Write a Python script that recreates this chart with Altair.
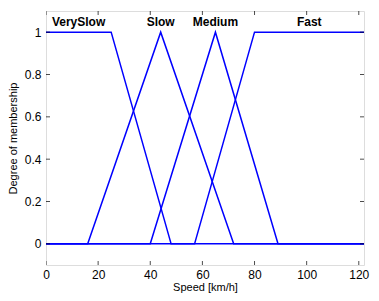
import altair as alt
import pandas as pd

# membership function breakpoints (speed, degree)
very_slow_x = [0, 25, 48, 122]
very_slow_y = [1, 1, 0, 0]
slow_x = [0, 16, 44, 72, 122]
slow_y = [0, 0, 1, 0, 0]
medium_x = [0, 40, 65, 89, 122]
medium_y = [0, 0, 1, 0, 0]
fast_x = [0, 57, 80, 122]
fast_y = [0, 0, 1, 1]

label_names = ["VerySlow", "Slow", "Medium", "Fast"]
label_x = [12.5, 44, 65, 101]
label_y = [1.05, 1.05, 1.05, 1.05]

x_ticks = [0, 20, 40, 60, 80, 100, 120]
y_ticks = [0, 0.2, 0.4, 0.6, 0.8, 1]
x_domain = [0, 122]
y_domain = [-0.1, 1.1]

rows = []
for name, xs, ys in [("VerySlow", very_slow_x, very_slow_y),
                     ("Slow", slow_x, slow_y),
                     ("Medium", medium_x, medium_y),
                     ("Fast", fast_x, fast_y)]:
    for i, (a, b) in enumerate(zip(xs, ys)):
        rows.append({"mf": name, "speed": a, "deg": b, "order": i})
df = pd.DataFrame(rows)
labels = pd.DataFrame({"name": label_names, "x": label_x, "y": label_y})
xt = pd.DataFrame({"v": x_ticks})
yt = pd.DataFrame({"v": y_ticks})

FONT = "Liberation Sans"
xscale = alt.Scale(domain=x_domain, nice=False, zero=False)
yscale = alt.Scale(domain=y_domain, nice=False, zero=False)

lines = alt.Chart(df).mark_line(color="#0000ff", strokeWidth=1.5, clip=True).encode(
    x=alt.X("speed:Q", scale=xscale,
            axis=alt.Axis(values=x_ticks, title="Speed [km/h]", ticks=False, domain=False,
                          grid=False, labelFontSize=12, titleFontSize=11, labelPadding=4,
                          titlePadding=1, labelColor="black", titleColor="black",
                          titleFontWeight="normal", labelFont=FONT, titleFont=FONT,
                          labelFlush=False)),
    y=alt.Y("deg:Q", scale=yscale,
            axis=alt.Axis(values=y_ticks, title="Degree of membership", ticks=False,
                          domain=False, grid=False, format="~g", labelFontSize=12,
                          titleFontSize=11, labelPadding=5, titlePadding=6,
                          labelColor="black", titleColor="black", titleFontWeight="normal",
                          labelFont=FONT, titleFont=FONT, labelFlush=False)),
    detail="mf:N",
    order="order:Q",
)

text = alt.Chart(labels).mark_text(fontWeight="bold", fontSize=12, font=FONT,
                                   color="black", baseline="middle").encode(
    x=alt.X("x:Q", scale=xscale), y=alt.Y("y:Q", scale=yscale), text="name:N")

bt = alt.Chart(xt).mark_tick(orient="vertical", size=8, thickness=1, color="black",
                             clip=True).encode(x=alt.X("v:Q", scale=xscale),
                                               y=alt.datum(y_domain[0]))
tt = alt.Chart(xt).mark_tick(orient="vertical", size=8, thickness=1, color="black",
                             clip=True).encode(x=alt.X("v:Q", scale=xscale),
                                               y=alt.datum(y_domain[1]))
lt = alt.Chart(yt).mark_tick(orient="horizontal", size=8, thickness=1, color="black",
                             clip=True).encode(y=alt.Y("v:Q", scale=yscale),
                                               x=alt.datum(x_domain[0]))
rt = alt.Chart(yt).mark_tick(orient="horizontal", size=8, thickness=1, color="black",
                             clip=True).encode(y=alt.Y("v:Q", scale=yscale),
                                               x=alt.datum(x_domain[1]))

chart = alt.layer(lines, bt, tt, lt, rt, text).properties(
    width=318, height=254,
    autosize=alt.AutoSizeParams(type="none"),
    padding={"left": 38, "top": 3, "right": 6, "bottom": 30},
).configure_view(stroke="black", strokeWidth=1.2).configure(background="white")

chart.save("out.html", embed_options={"renderer": "svg", "actions": False})
